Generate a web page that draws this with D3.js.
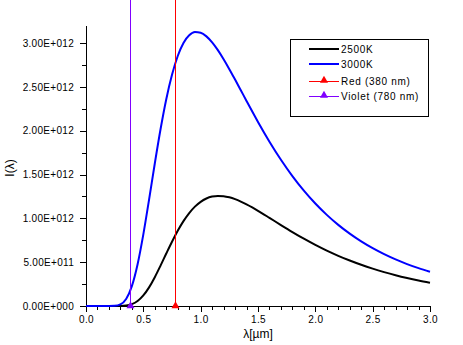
<!doctype html>
<html lang="en">
<head>
  <meta charset="utf-8">
  <title>Planck curves</title>
  <style>
    body { margin: 0; background: #fff; }
    text { font-family: "Liberation Sans", Arial, sans-serif; fill: #000; }
  </style>
</head>
<body>
<div id="vis"></div>
<script src="https://cdn.jsdelivr.net/npm/d3@7"></script>
<script>
// wavelength in micrometres
const lambda = [0, 0.05, 0.1, 0.15, 0.2, 0.25, 0.3, 0.35, 0.4, 0.45, 0.5, 0.55, 0.6, 0.65, 0.7, 0.75,
  0.8, 0.85, 0.9, 0.95, 1.0, 1.05, 1.1, 1.15, 1.2, 1.25, 1.3, 1.35, 1.4, 1.45, 1.5,
  1.6, 1.7, 1.8, 1.9, 2.0, 2.1, 2.2, 2.3, 2.4, 2.5, 2.6, 2.7, 2.8, 2.9, 3.0];

// intensity, in units of 1E+012
const i2500 = [0, 0, 0, 0, 0, 0, 0.0007, 0.0052, 0.0206, 0.0566, 0.1201, 0.2122, 0.3286, 0.4606, 0.5985, 0.7335,
  0.8583, 0.9682, 1.0602, 1.1336, 1.1886, 1.2261, 1.2481, 1.2563, 1.2529, 1.2397, 1.2188, 1.1916, 1.1596, 1.1240, 1.0859,
  1.0055, 0.9237, 0.8439, 0.7680, 0.6972, 0.6320, 0.5726, 0.5186, 0.4699, 0.4260, 0.3866, 0.3511, 0.3193, 0.2907, 0.2650];

const i3000 = [0, 0, 0, 0, 0.00005, 0.0018, 0.0176, 0.0797, 0.2268, 0.4768, 0.8176, 1.2142, 1.626, 2.016, 2.3587, 2.637,
  2.852, 3.001, 3.088, 3.1254, 3.1174, 3.076, 3.007, 2.9186, 2.815, 2.702, 2.583, 2.4614, 2.3391, 2.218, 2.0998,
  1.8747, 1.6682, 1.4823, 1.3162, 1.1692, 1.0395, 0.9254, 0.8251, 0.7370, 0.6594, 0.5914, 0.5313, 0.4784, 0.4316, 0.3902];

// vertical marker lines: x position and y from/to (1E+012)
const redLineX = [0.78, 0.78];
const redLineY = [0, 3.5];
const violetLineX = [0.38, 0.38];
const violetLineY = [0, 3.5];

const xTicks = [0, 0.5, 1.0, 1.5, 2.0, 2.5, 3.0];
const yTicks = [0, 0.5, 1.0, 1.5, 2.0, 2.5, 3.0];
const legendLabels = ['2500K', '3000K', 'Red (380 nm)', 'Violet (780 nm)'];

const w = 463, h = 345;
const colors = { k2500: '#000000', k3000: '#0000ff', red: '#ff0000', violet: '#8000ff' };

const svg = d3.select('#vis').append('svg')
  .attr('width', w)
  .attr('height', h);

const x = d3.scaleLinear().domain([0, 3]).range([86, 430]);
const y = d3.scaleLinear().domain([0, 3.2]).range([306, 25.5]);

function sci(v) {
  if (v === 0) return '0.00E+000';
  const val = v * 1e12;
  const e = Math.floor(Math.log10(val) + 1e-9);
  const m = val / Math.pow(10, e);
  return m.toFixed(2) + 'E+' + String(e).padStart(3, '0');
}

// minor ticks
svg.append('g')
  .attr('transform', 'translate(0,306)')
  .call(d3.axisBottom(x).tickValues(d3.range(0, 31).map(i => i / 10)).tickSize(4).tickFormat(''))
  .call(g => g.select('.domain').remove());
svg.append('g')
  .attr('transform', 'translate(86,0)')
  .call(d3.axisLeft(y).tickValues(d3.range(0, 13).map(i => i / 4)).tickSize(4).tickFormat(''))
  .call(g => g.select('.domain').remove());

// major axes
const xAxis = svg.append('g')
  .attr('transform', 'translate(0,306)')
  .call(d3.axisBottom(x).tickValues(xTicks).tickSize(6).tickSizeOuter(0).tickFormat(d3.format('.1f')));
const yAxis = svg.append('g')
  .attr('transform', 'translate(86,0)')
  .call(d3.axisLeft(y).tickValues(yTicks).tickSize(6).tickSizeOuter(0).tickFormat(sci));

svg.selectAll('.domain, .tick line').attr('shape-rendering', 'crispEdges').attr('stroke', '#000');
xAxis.selectAll('text').attr('font-size', 10).attr('dy', '0.8em').attr('letter-spacing', 0.4);
yAxis.selectAll('text').attr('font-size', 10).attr('x', -12).attr('letter-spacing', 0.3);

// curves
const line = d3.line()
  .x(d => x(d[0]))
  .y(d => y(d[1]))
  .curve(d3.curveMonotoneX);

svg.append('path')
  .datum(lambda.map((l, i) => [l, i2500[i]]))
  .attr('fill', 'none')
  .attr('stroke', colors.k2500)
  .attr('stroke-width', 2)
  .attr('d', line);

svg.append('path')
  .datum(lambda.map((l, i) => [l, i3000[i]]))
  .attr('fill', 'none')
  .attr('stroke', colors.k3000)
  .attr('stroke-width', 2)
  .attr('d', line);

const tri = d3.symbol().type(d3.symbolTriangle).size(28);

function vline(xs, ys, color) {
  const pts = xs.map((v, i) => [v, ys[i]]);
  svg.append('path')
    .datum(pts)
    .attr('fill', 'none')
    .attr('stroke', color)
    .attr('stroke-width', 1)
    .attr('shape-rendering', 'crispEdges')
    .attr('d', d3.line().x(d => Math.round(x(d[0])) + 0.5).y(d => y(d[1])));
  svg.append('path')
    .attr('d', tri)
    .attr('fill', color)
    .attr('transform', `translate(${Math.round(x(pts[0][0])) + 0.5},${y(pts[0][1])})`);
}
vline(redLineX, redLineY, colors.red);
vline(violetLineX, violetLineY, colors.violet);

// axis titles
svg.append('text')
  .attr('x', 258)
  .attr('y', 338)
  .attr('text-anchor', 'middle')
  .attr('font-size', 12)
  .text('λ[µm]');

svg.append('text')
  .attr('transform', 'translate(14,168) rotate(-90)')
  .attr('text-anchor', 'middle')
  .attr('font-size', 12)
  .text('I(λ)');

// legend
const legend = svg.append('g');
legend.append('rect')
  .attr('x', 290.5).attr('y', 39.5)
  .attr('width', 138).attr('height', 77)
  .attr('fill', '#fff')
  .attr('stroke', '#000')
  .attr('stroke-width', 1);

const legendColors = [colors.k2500, colors.k3000, colors.red, colors.violet];
const rowY = [49, 64, 81.5, 96.5];
legendLabels.forEach((lab, i) => {
  legend.append('line')
    .attr('x1', 309).attr('x2', 339)
    .attr('y1', rowY[i]).attr('y2', rowY[i])
    .attr('stroke', legendColors[i])
    .attr('stroke-width', i < 2 ? 2 : 1);
  if (i >= 2) {
    legend.append('path')
      .attr('d', tri)
      .attr('fill', legendColors[i])
      .attr('transform', `translate(324,${rowY[i] - 1})`);
  }
  legend.append('text')
    .attr('x', 341)
    .attr('y', rowY[i] + 3.5)
    .attr('font-size', 10)
    .attr('letter-spacing', 0.7)
    .text(lab);
});
</script>
</body>
</html>
